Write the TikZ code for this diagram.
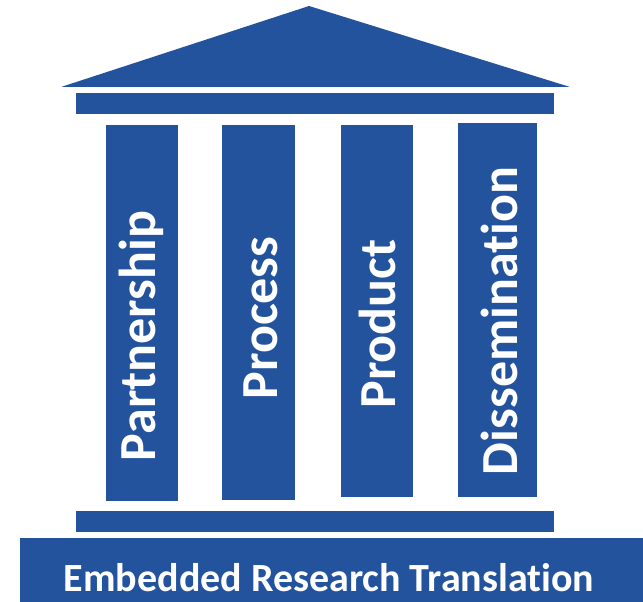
\documentclass[tikz,border=0pt]{standalone}
\usepackage{fontspec}
\setmainfont{Carlito}[Ligatures=NoCommon]
\definecolor{pillarblue}{HTML}{24539E}
\tikzset{
  part/.style={fill=pillarblue, draw=none},
  coltext/.style={text=white, font=\fontsize{52}{52}\selectfont\bfseries, rotate=90, anchor=base, inner sep=0pt},
  basetext/.style={text=white, font=\fontsize{40}{40}\selectfont\bfseries, anchor=base, inner sep=0pt}
}
\begin{document}
\begin{tikzpicture}[x=1pt,y=-1pt]
\useasboundingbox (0,0) rectangle (643,602);
% roof
\fill[part] (61,87) -- (309,6) -- (570,87) -- cycle;
% entablature
\fill[part] (76,93) rectangle (554,114);
% columns
\fill[part] (106,125) rectangle (178,501);
\fill[part] (222,125) rectangle (295,500);
\fill[part] (341,125) rectangle (413,497);
\fill[part] (458,123) rectangle (537,497);
% base bar
\fill[part] (76,511) rectangle (554,532);
% bottom bar
\fill[part] (20,538) rectangle (643,602);
% texts
\node[coltext] (t1) at (155,336) {Partnership};
\node[coltext] (t2) at (277,318) {Process};
\node[coltext] (t3) at (395,324) {Product};
\node[coltext] (t4) at (517,321) {Dissemination};
\node[basetext] (tb) at (329,591) {Embedded Research Translation};
\end{tikzpicture}
\end{document}
